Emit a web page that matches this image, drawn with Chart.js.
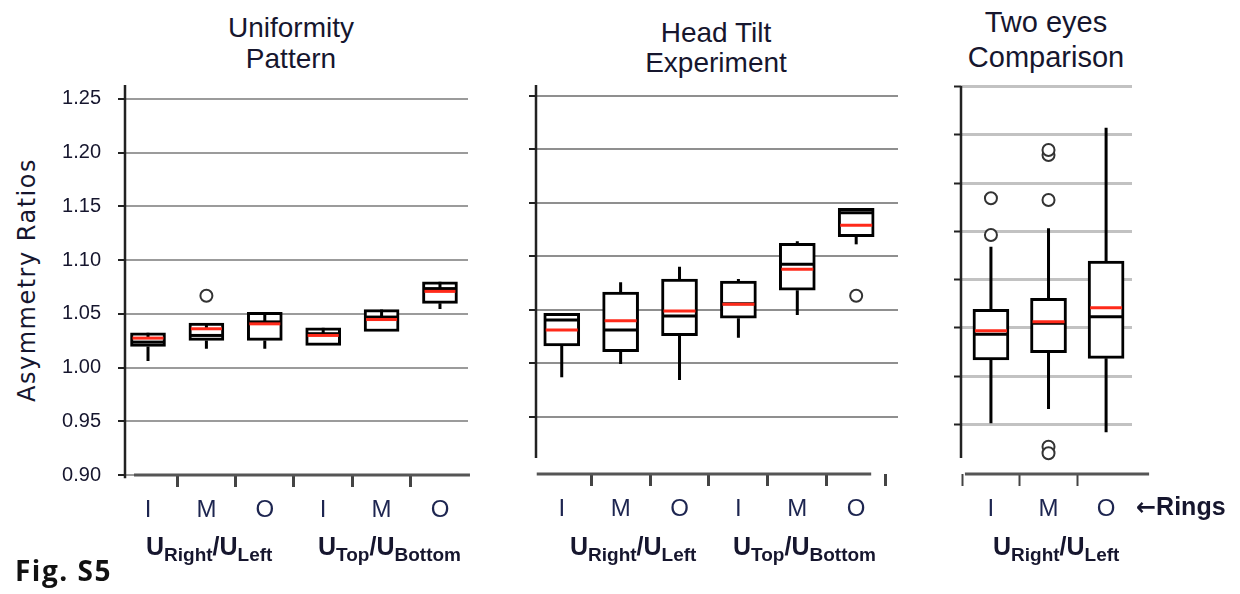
<!DOCTYPE html>
<html>
<head>
<meta charset="utf-8">
<script src="https://cdn.jsdelivr.net/npm/chart.js@4.4.1/dist/chart.umd.min.js"></script>
<style>
  body { margin: 0; width: 1240px; height: 594px; background: #fff; position: relative; overflow: hidden;
         font-family: "Liberation Sans", Arial, sans-serif; color: #16162e; }
  canvas { position: absolute; top: 0; }
  #uniChart { left: 0; }
  #tiltChart { left: 490px; }
  #eyeChart { left: 925px; }
  .title { position: absolute; width: 300px; text-align: center; font-size: 28px; line-height: 31px; }
  .ylabel { position: absolute; left: -123px; top: 266px; width: 300px; height: 28px; line-height: 28px;
            text-align: center; font-family: "DejaVu Sans", sans-serif; font-size: 24px; letter-spacing: 1.5px;
            transform: rotate(-90deg); white-space: nowrap; }
  .group { position: absolute; top: 534px; font-weight: bold; font-size: 25px; line-height: 25px; white-space: nowrap; }
  .group span { font-size: 19px; position: relative; top: 6px; }
  .rings { position: absolute; left: 1136px; top: 494px; font-weight: bold; font-size: 25px; line-height: 25px; white-space: nowrap; }
  .rings b { font-family: "DejaVu Sans", sans-serif; font-size: 24px; }
  .fig { position: absolute; left: 15px; top: 556px; font-family: "Open Sans", sans-serif; font-weight: bold;
         font-size: 28px; line-height: 28px; letter-spacing: 1.5px; color: #111; }
</style>
</head>
<body>
<div class="title" style="left:141px;top:12px">Uniformity<br>Pattern</div>
<div class="title" style="left:566px;top:18px;line-height:30px">Head Tilt<br>Experiment</div>
<div class="title" style="left:896px;top:5px;font-size:29px;line-height:35px">Two eyes<br>Comparison</div>
<div class="ylabel">Asymmetry Ratios</div>

<canvas id="uniChart" width="480" height="594"></canvas>
<canvas id="tiltChart" width="430" height="594"></canvas>
<canvas id="eyeChart" width="315" height="594"></canvas>

<div class="group" style="left:146px">U<span>Right</span>/U<span>Left</span></div>
<div class="group" style="left:318px">U<span>Top</span>/U<span>Bottom</span></div>
<div class="group" style="left:570px">U<span>Right</span>/U<span>Left</span></div>
<div class="group" style="left:733px">U<span>Top</span>/U<span>Bottom</span></div>
<div class="group" style="left:993px">U<span>Right</span>/U<span>Left</span></div>
<div class="rings"><b>&larr;</b>Rings</div>
<div class="fig">Fig. S5</div>

<script>
// Ring categories and y tick values
const ringLabels = ["I", "M", "O", "I", "M", "O"];
const eyeLabels = ["I", "M", "O"];
const yTicksFull = [0.90, 0.95, 1.00, 1.05, 1.10, 1.15, 1.20, 1.25];
const yTicksTilt = [0.95, 1.00, 1.05, 1.10, 1.15, 1.20, 1.25];

// Uniformity Pattern
const uniQ1 = [1.0197, 1.0253, 1.0253, 1.0206, 1.0336, 1.0598];
const uniQ3 = [1.0324, 1.0413, 1.0515, 1.0370, 1.0540, 1.0799];
const uniMedian = [1.0237, 1.0299, 1.0425, 1.0315, 1.0470, 1.0735];
const uniMean = [1.0274, 1.0361, 1.0407, 1.0299, 1.0447, 1.0709];
const uniLow = [1.0061, 1.0176, 1.0176, 1.0206, 1.0336, 1.0546];
const uniHigh = [1.0285, 1.0361, 1.0425, 1.0315, 1.0470, 1.0735];
const uniOutliers = [[], [1.0669], [], [], [], []];

// Head Tilt Experiment
const tiltQ1 = [1.0161, 1.0107, 1.0257, 1.0420, 1.0682, 1.1184];
const tiltQ3 = [1.0467, 1.0666, 1.0788, 1.0769, 1.1122, 1.1449];
const tiltMedian = [1.0404, 1.0310, 1.0441, 1.0555, 1.0925, 1.1408];
const tiltMean = [1.0310, 1.0398, 1.0488, 1.0551, 1.0878, 1.1290];
const tiltLow = [0.9868, 0.9992, 0.9843, 1.0239, 1.0451, 1.1112];
const tiltHigh = [1.0467, 1.0757, 1.0903, 1.0788, 1.1141, 1.1449];
const tiltOutliers = [[], [], [], [], [], [1.0631]];

// Two eyes Comparison
const eyeQ1 = [0.9667, 0.9742, 0.9684];
const eyeQ3 = [1.0192, 1.0306, 1.0693];
const eyeMedian = [0.9933, 1.0047, 1.0116];
const eyeMean = [0.9970, 1.0064, 1.0209];
const eyeLow = [0.9010, 0.9159, 0.8917];
const eyeHigh = [1.0841, 1.1032, 1.2075];
const eyeOutliers = [[1.0963, 1.1343], [1.1325, 1.1792, 1.1844, 0.8768, 0.8700], []];

const textColor = "#16162e";
const labelColor = "#1d2550";

function boxPlugin(stats, style) {
  return {
    id: "boxExtras",
    beforeDatasetsDraw(chart) {
      const { ctx, chartArea, scales: { x, y } } = chart;
      const n = stats.q1.length;
      ctx.save();
      // y axis line
      ctx.strokeStyle = "#222";
      ctx.lineWidth = 2.5;
      ctx.beginPath();
      ctx.moveTo(chartArea.left, y.getPixelForValue(style.yAxisFrom));
      ctx.lineTo(chartArea.left, chartArea.top);
      ctx.stroke();
      // x axis line
      ctx.strokeStyle = "#555";
      ctx.lineWidth = 3;
      ctx.beginPath();
      ctx.moveTo(x.getPixelForValue(0) - style.padLeft, chartArea.bottom);
      ctx.lineTo(x.getPixelForValue(n - 1) + style.padRight, chartArea.bottom);
      ctx.stroke();
      ctx.restore();
    },
    afterDatasetsDraw(chart) {
      const { ctx, scales: { x, y } } = chart;
      const half = style.boxWidth / 2 - 2;
      ctx.save();
      stats.q1.forEach((q1, i) => {
        const cx = x.getPixelForValue(i);
        // whiskers
        ctx.strokeStyle = "#000";
        ctx.lineWidth = 3;
        ctx.beginPath();
        ctx.moveTo(cx, y.getPixelForValue(q1));
        ctx.lineTo(cx, y.getPixelForValue(stats.low[i]));
        ctx.moveTo(cx, y.getPixelForValue(stats.q3[i]));
        ctx.lineTo(cx, y.getPixelForValue(stats.high[i]));
        ctx.stroke();
        // median
        ctx.beginPath();
        ctx.moveTo(cx - half, y.getPixelForValue(stats.median[i]));
        ctx.lineTo(cx + half, y.getPixelForValue(stats.median[i]));
        ctx.stroke();
        // red line
        ctx.strokeStyle = "#ff2a1a";
        ctx.beginPath();
        ctx.moveTo(cx - half, y.getPixelForValue(stats.mean[i]));
        ctx.lineTo(cx + half, y.getPixelForValue(stats.mean[i]));
        ctx.stroke();
      });
      ctx.restore();
    }
  };
}

function makeChart(id, labels, stats, style) {
  const boxes = stats.q1.map((v, i) => ({ x: i, y: [v, stats.q3[i]] }));
  const points = [];
  stats.outliers.forEach((list, i) => list.forEach(v => points.push({ x: i, y: v })));

  new Chart(document.getElementById(id), {
    type: "scatter",
    data: {
      datasets: [
        {
          type: "bar",
          data: boxes,
          backgroundColor: "#fff",
          borderColor: "#000",
          borderWidth: 3,
          borderSkipped: false,
          barThickness: style.boxWidth
        },
        {
          type: "scatter",
          data: points,
          pointRadius: 6,
          pointBorderWidth: 2,
          pointBorderColor: "#333",
          pointBackgroundColor: "#fff"
        }
      ]
    },
    options: {
      responsive: false,
      animation: false,
      layout: { padding: { top: style.top, right: style.right, left: 0, bottom: 0 } },
      plugins: { legend: { display: false }, tooltip: { enabled: false } },
      scales: {
        x: {
          type: "linear",
          min: style.xMin,
          max: style.xMax,
          offset: false,
          afterBuildTicks: s => { s.ticks = labels.map((_, i) => ({ value: i })); },
          afterFit: s => { s.height = 594 - style.bottom; },
          ticks: {
            callback: v => labels[v],
            autoSkip: false,
            maxRotation: 0,
            padding: 9,
            color: labelColor,
            font: { family: "Liberation Sans", size: 24 }
          },
          grid: { drawOnChartArea: false, drawTicks: true, tickLength: 12, tickColor: "#444", tickWidth: style.xTickWidth },
          border: { display: false }
        },
        y: {
          min: style.yMin,
          max: style.yMax,
          afterBuildTicks: s => { s.ticks = style.yTicks.map(v => ({ value: v })); },
          afterFit: s => { s.width = style.left; },
          ticks: {
            display: style.showLabels,
            callback: v => v.toFixed(2),
            padding: 17,
            color: textColor,
            font: { family: "Liberation Sans", size: 20 }
          },
          grid: { color: style.gridColor, lineWidth: style.gridWidth, tickLength: 7, tickColor: "#222", tickWidth: 2 },
          border: { display: false }
        }
      }
    },
    plugins: [boxPlugin(stats, style)]
  });
}

makeChart("uniChart", ringLabels,
  { q1: uniQ1, q3: uniQ3, median: uniMedian, mean: uniMean, low: uniLow, high: uniHigh, outliers: uniOutliers },
  { left: 125, right: 12, top: 85, bottom: 475, xMin: -0.394, xMax: 5.48, yMin: 0.90, yMax: 1.263,
    yTicks: yTicksFull, showLabels: true, gridColor: "#9b9b9b", gridWidth: 2, boxWidth: 35,
    yAxisFrom: 0.897, padLeft: 14, padRight: 30, xTickWidth: 3 });

makeChart("tiltChart", ringLabels,
  { q1: tiltQ1, q3: tiltQ3, median: tiltMedian, mean: tiltMean, low: tiltLow, high: tiltHigh, outliers: tiltOutliers },
  { left: 46, right: 22, top: 85, bottom: 474, xMin: -0.437, xMax: 5.71, yMin: 0.8963, yMax: 1.2603,
    yTicks: yTicksTilt, showLabels: false, gridColor: "#8f8f8f", gridWidth: 2, boxWidth: 36,
    yAxisFrom: 0.9113, padLeft: 25, padRight: 15, xTickWidth: 3 });

makeChart("eyeChart", eyeLabels,
  { q1: eyeQ1, q3: eyeQ3, median: eyeMedian, mean: eyeMean, low: eyeLow, high: eyeHigh, outliers: eyeOutliers },
  { left: 36, right: 108, top: 86, bottom: 474, xMin: -0.52, xMax: 2.45, yMin: 0.8485, yMax: 1.2507,
    yTicks: yTicksFull, showLabels: false, gridColor: "#c2c2c2", gridWidth: 3, boxWidth: 36,
    yAxisFrom: 0.865, padLeft: 26, padRight: 43, xTickWidth: 2 });
</script>
</body>
</html>
